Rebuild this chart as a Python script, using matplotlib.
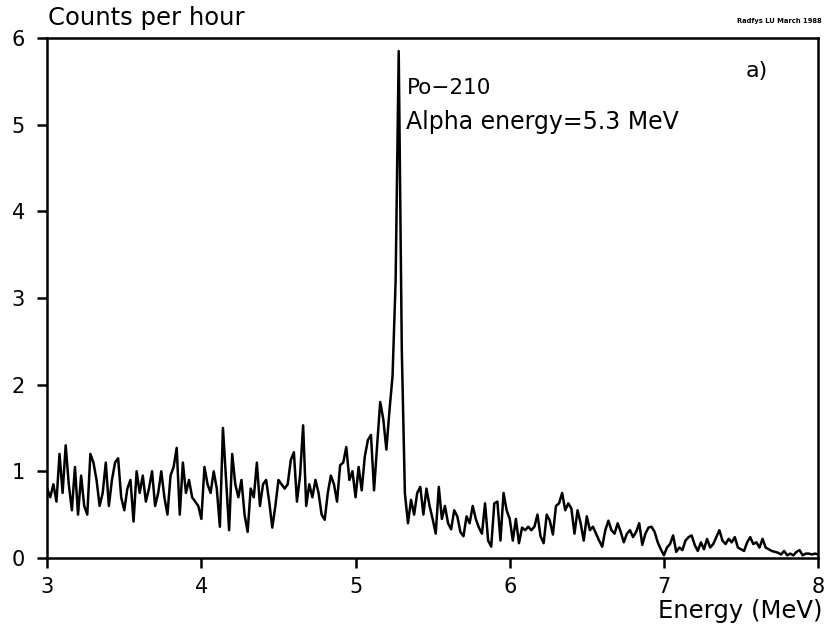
import numpy as np
import matplotlib
matplotlib.use('Agg')
import matplotlib.pyplot as plt

# counts per hour, one value per 0.02 MeV channel from 3.00 to 8.00 MeV
counts_3_to_4p9 = [
    0.80, 0.70, 0.85, 0.65, 1.20, 0.75, 1.30, 0.85, 0.55, 1.05, 0.50, 0.95, 0.60, 0.50, 1.20, 1.10,
    0.90, 0.60, 0.75, 1.10, 0.60, 0.90, 1.10, 1.15, 0.70, 0.55, 0.80, 0.90, 0.42, 1.00, 0.75, 0.95,
    0.65, 0.80, 1.00, 0.60, 0.75, 1.00, 0.70, 0.50, 0.95, 1.05, 1.27, 0.50, 1.10, 0.75, 0.90, 0.70,
    0.65, 0.60, 0.45, 1.05, 0.85, 0.75, 1.00, 0.80, 0.36, 1.50, 0.90, 0.32, 1.20, 0.85, 0.70, 0.90,
    0.50, 0.30, 0.80, 0.70, 1.10, 0.60, 0.85, 0.90, 0.65, 0.35, 0.60, 0.90, 0.85, 0.80, 0.85, 1.13,
    1.22, 0.65, 0.95, 1.53, 0.60, 0.85, 0.70, 0.90, 0.75, 0.50, 0.44, 0.75, 0.95, 0.85, 0.65, 1.07,
]
counts_peak = [
    1.10, 1.28, 0.90, 1.00, 0.70, 1.05, 0.78, 1.17, 1.36, 1.42, 0.78, 1.30, 1.80, 1.60, 1.25, 1.70,
    2.10, 3.20, 5.85, 2.40, 0.75, 0.40,
]
counts_tail = [
    0.67, 0.50, 0.75, 0.82, 0.50, 0.80, 0.60, 0.45, 0.28, 0.82, 0.45, 0.60, 0.40, 0.33, 0.55, 0.48,
    0.30, 0.25, 0.48, 0.40, 0.60, 0.45, 0.35, 0.28, 0.63, 0.20, 0.13, 0.63, 0.65, 0.20, 0.75, 0.55,
    0.45, 0.20, 0.45, 0.17, 0.35, 0.32, 0.36, 0.32, 0.36, 0.50, 0.25, 0.17, 0.50, 0.43, 0.27, 0.60,
    0.63, 0.75, 0.55, 0.63, 0.57, 0.28, 0.55, 0.40, 0.20, 0.48, 0.32, 0.36, 0.28, 0.20, 0.13, 0.32,
    0.43, 0.32, 0.28, 0.40,
    0.30, 0.18, 0.28, 0.32, 0.24, 0.30, 0.40, 0.15, 0.28, 0.35, 0.36, 0.30, 0.18, 0.10, 0.03, 0.12,
    0.16, 0.26, 0.07, 0.12, 0.09, 0.20, 0.24, 0.26, 0.15, 0.08, 0.18, 0.10, 0.22, 0.12, 0.16, 0.24,
    0.32, 0.20, 0.16, 0.22, 0.18, 0.24, 0.12, 0.10, 0.08, 0.18, 0.24, 0.16, 0.18, 0.12, 0.22, 0.12,
    0.10, 0.08, 0.07, 0.06, 0.04, 0.08, 0.03, 0.05, 0.03, 0.07, 0.09, 0.03, 0.05, 0.05, 0.04, 0.05,
    0.04,
]
counts = counts_3_to_4p9 + counts_peak + counts_tail
energy = np.linspace(3.0, 8.0, len(counts))

x_ticks = [3, 4, 5, 6, 7, 8]
y_ticks = [0, 1, 2, 3, 4, 5, 6]

plt.rcParams['font.family'] = ['DejaVu Sans']

fig = plt.figure(figsize=(8.28, 6.34), dpi=100)
ax = fig.add_axes([0.057, 0.12, 0.931, 0.82])
ax.plot(energy, counts, color='black', lw=1.8)

ax.set_xlim(3, 8)
ax.set_ylim(0, 6)
ax.set_xticks(x_ticks)
ax.set_yticks(y_ticks)
ax.tick_params(direction='out', length=7, width=1.8, labelsize=15, pad=7)
ax.tick_params(axis='y', pad=9)
for sp in ax.spines.values():
    sp.set_linewidth(1.8)

fig.text(0.058, 0.953, 'Counts per hour', fontsize=17.5, ha='left', va='bottom')
fig.text(0.992, 0.962, 'Radfys LU March 1988', fontsize=4.9, fontweight='bold',
         ha='right', va='bottom')
fig.text(0.993, 0.037, 'Energy (MeV)', fontsize=17.5, ha='right', va='center')

ax.text(5.33, 5.42, 'Po\u2212210', fontsize=15.5, ha='left', va='center')
ax.text(5.33, 5.03, 'Alpha energy=5.3 MeV', fontsize=17, ha='left', va='center')
ax.text(7.6, 5.62, 'a)', fontsize=16, ha='center', va='center')

fig.savefig('out.png', dpi=100, facecolor='white')
